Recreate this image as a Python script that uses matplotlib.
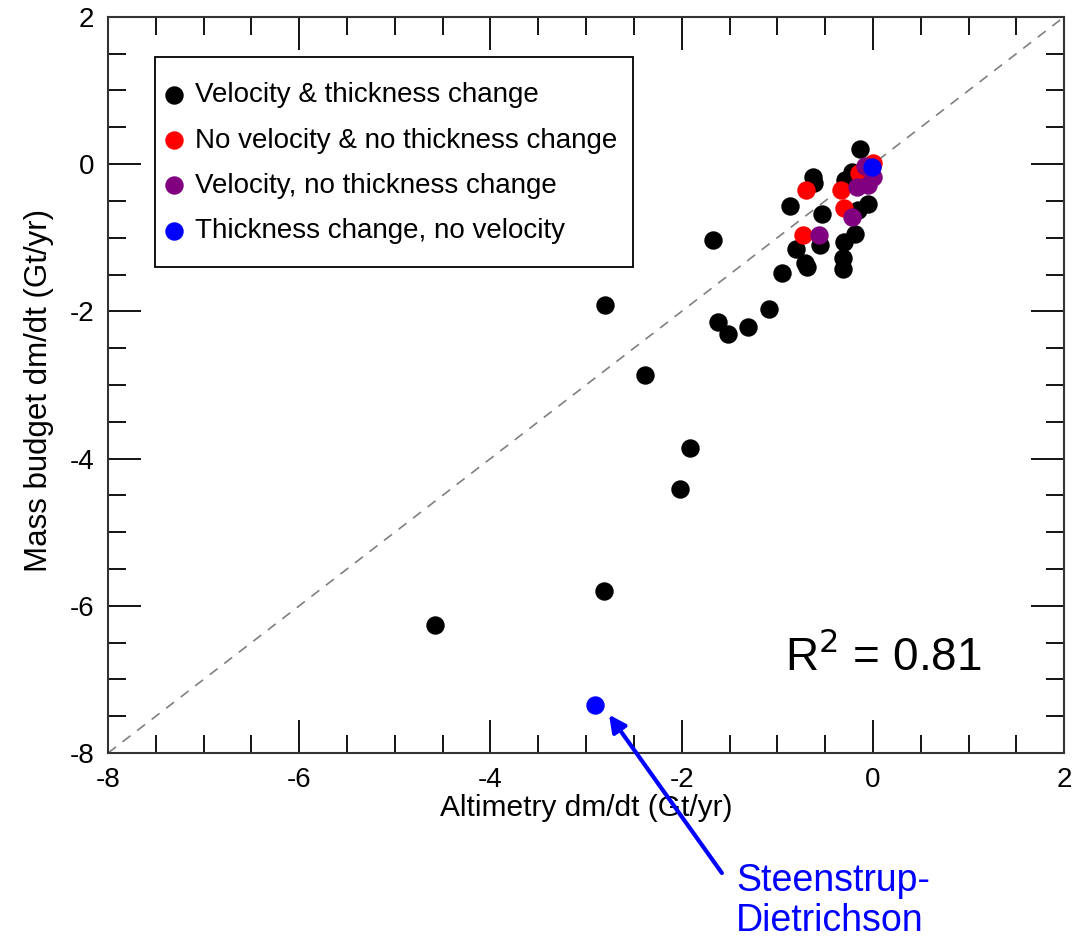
import numpy as np
import matplotlib.pyplot as plt
from matplotlib.patches import Rectangle
from matplotlib.ticker import MultipleLocator

plt.rcParams['font.family'] = ['Liberation Sans', 'DejaVu Sans']
plt.rcParams['axes.unicode_minus'] = False

# altimetry dm/dt (x) vs mass budget dm/dt (y), Gt/yr
vt_x = [-0.14, -0.22, -0.63, -0.62, -0.29, -0.87, -0.05, -0.16, -0.53, -1.67,
        -0.55, -0.19, -0.30, -0.80, -0.71, -0.69, -0.31, -0.31, -0.95, -1.09,
        -2.80, -1.62, -1.52, -1.31, -2.38, -1.91, -2.02, -2.81, -4.58]
vt_y = [0.20, -0.11, -0.18, -0.26, -0.22, -0.57, -0.54, -0.63, -0.68, -1.03,
        -1.10, -0.95, -1.06, -1.16, -1.34, -1.40, -1.28, -1.43, -1.48, -1.97,
        -1.92, -2.15, -2.31, -2.21, -2.87, -3.85, -4.42, -5.80, -6.26]
none_x = [0.00, -0.15, -0.70, -0.33, -0.30, -0.73]
none_y = [0.01, -0.12, -0.35, -0.35, -0.60, -0.97]
vel_x = [-0.08, -0.17, -0.05, 0.00, -0.22, -0.56]
vel_y = [-0.03, -0.31, -0.29, -0.17, -0.72, -0.97]
thk_x = [-0.01, -2.91]
thk_y = [-0.04, -7.35]

labels = ['Velocity & thickness change', 'No velocity & no thickness change',
          'Velocity, no thickness change', 'Thickness change, no velocity']

fig = plt.figure(figsize=(10.89, 9.36), dpi=100)
ax = fig.add_axes([0.0992, 0.1955, 0.878, 0.7865])

ax.plot([-8, 2], [-8, 2], ls=(0, (6, 5)), color='gray', lw=1.2, zorder=1)

ms = 150
ax.scatter(vt_x, vt_y, s=ms, color='black', label=labels[0], zorder=3)
ax.scatter(none_x, none_y, s=ms, color='red', label=labels[1], zorder=3)
ax.scatter(vel_x, vel_y, s=ms, color='purple', label=labels[2], zorder=3)
ax.scatter(thk_x, thk_y, s=ms, color='blue', label=labels[3], zorder=4)

ax.set_xlim(-8, 2)
ax.set_ylim(-8, 2)
ax.xaxis.set_major_locator(MultipleLocator(2))
ax.xaxis.set_minor_locator(MultipleLocator(0.5))
ax.yaxis.set_major_locator(MultipleLocator(2))
ax.yaxis.set_minor_locator(MultipleLocator(0.5))
ax.tick_params(which='both', direction='in', top=True, right=True, labelsize=20, pad=10)
ax.tick_params(which='major', length=24, width=1.3)
ax.tick_params(which='minor', length=13, width=1.3)
for sp in ax.spines.values():
    sp.set_linewidth(1.5)
    sp.set_color('#333333')

ax.set_xlabel('Altimetry dm/dt (Gt/yr)', fontsize=21.5, labelpad=1)
ax.set_ylabel('Mass budget dm/dt (Gt/yr)', fontsize=22.5)
ax.yaxis.set_label_coords(-0.056, 0.493)

# legend box drawn separately (taller padding than wide)
ax.add_patch(Rectangle((0.0492, 0.660), 0.4998, 0.2857, transform=ax.transAxes,
                       facecolor='white', edgecolor='black', lw=1.3, zorder=5))
leg = ax.legend(loc='upper left', bbox_to_anchor=(0.0604, 0.911), fontsize=20,
                markerscale=1.0, handletextpad=0.45, labelspacing=0.69,
                frameon=False, borderpad=0, handlelength=0.6, borderaxespad=0)
leg.set_zorder(6)

ax.text(1.14, -6.70, r'R$^2$ = 0.81', fontsize=33, ha='right', va='center',
        math_fontfamily='dejavusans')

ax.annotate('', xy=(-2.76, -7.48), xytext=(-1.58, -9.63), annotation_clip=False,
            arrowprops=dict(arrowstyle='-|>', color='blue', lw=3, mutation_scale=25,
                            shrinkA=0, shrinkB=0))
ax.text(-1.43, -9.50, 'Steenstrup-\nDietrichson', fontsize=27, color='blue',
        ha='left', va='top', linespacing=1.12, clip_on=False)

fig.savefig('out.png', dpi=100)
